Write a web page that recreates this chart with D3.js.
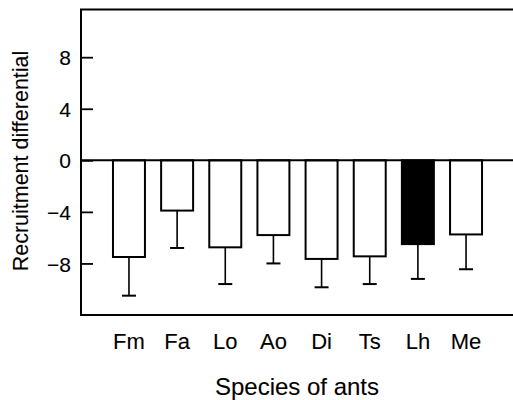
<!DOCTYPE html>
<html>
<head>
<meta charset="utf-8">
<style>
  body { margin: 0; background: #fff; }
  text { font-family: "Liberation Sans", Arial, sans-serif; fill: #000; stroke: #000; stroke-width: 0.1px; }
</style>
</head>
<body>
<svg width="513" height="400" id="chart"></svg>
<script src="https://cdn.jsdelivr.net/npm/d3@7"></script>
<script>

const species = ['Fm', 'Fa', 'Lo', 'Ao', 'Di', 'Ts', 'Lh', 'Me']
const means   = [-7.5, -3.9, -6.75, -5.8, -7.65, -7.45, -6.5, -5.75]
const errors  = [-10.5, -6.8, -9.6, -8.0, -9.85, -9.6, -9.2, -8.45]
const filled  = ['Lh']
const yTicks  = [8, 4, 0, -4, -8]

const svg = d3.select('#chart')
const plotLeft = 81, plotRight = 514, plotTop = 9.5, plotBottom = 315

const x = d3.scaleBand().domain(species).range([plotLeft, plotRight]).paddingInner(0.336).paddingOuter(0.664)
const y = d3.scaleLinear().domain([-12, 11.7]).range([plotBottom, plotTop])

// frame: top, left, bottom (no right side)
svg.append('path')
  .attr('d', `M${plotRight},${plotTop}H${plotLeft}V${plotBottom}H${plotRight}`)
  .attr('fill', 'none').attr('stroke', '#000').attr('stroke-width', 2)

// y ticks drawn inward
const yAxis = svg.append('g').attr('transform', `translate(${plotLeft},0)`)
  .call(d3.axisRight(y).tickValues(yTicks).tickSize(12).tickFormat(d => d < 0 ? '\u2212' + Math.abs(d) : d))
yAxis.select('.domain').remove()
yAxis.selectAll('.tick line').attr('stroke-width', 1.8)
yAxis.selectAll('.tick text')
  .attr('x', -10).attr('text-anchor', 'end').attr('dy', '0.36em')
  .style('font-size', '21px')

// error bars
const bars = svg.append('g')
species.forEach((s, i) => {
  const cx = x(s) + x.bandwidth() / 2
  bars.append('line')
    .attr('x1', cx).attr('x2', cx).attr('y1', y(means[i])).attr('y2', y(errors[i]))
    .attr('stroke', '#000').attr('stroke-width', 1.6)
  bars.append('line')
    .attr('x1', cx - 7).attr('x2', cx + 7).attr('y1', y(errors[i])).attr('y2', y(errors[i]))
    .attr('stroke', '#000').attr('stroke-width', 2)
})

bars.selectAll('rect')
  .data(species)
  .enter()
  .append('rect')
    .attr('x', d => x(d))
    .attr('width', x.bandwidth())
    .attr('y', y(0))
    .attr('height', (d, i) => y(means[i]) - y(0))
    .attr('fill', d => filled.includes(d) ? '#000' : '#fff')
    .attr('stroke', '#000')
    .attr('stroke-width', 2)

// zero line
svg.append('line')
  .attr('x1', plotLeft).attr('x2', plotRight).attr('y1', y(0)).attr('y2', y(0))
  .attr('stroke', '#000').attr('stroke-width', 2)

// x labels
svg.append('g').selectAll('text')
  .data(species)
  .enter()
  .append('text')
    .attr('x', d => x(d) + x.bandwidth() / 2)
    .attr('y', 349)
    .attr('text-anchor', 'middle')
    .style('font-size', '22px')
    .text(d => d)

svg.append('text')
  .attr('x', 297).attr('y', 395)
  .attr('text-anchor', 'middle')
  .style('font-size', '24px')
  .text('Species of ants')

svg.append('text')
  .attr('transform', 'translate(28,161) rotate(-90)')
  .attr('text-anchor', 'middle')
  .style('font-size', '21.5px')
  .text('Recruitment differential')

</script>
</body>
</html>
